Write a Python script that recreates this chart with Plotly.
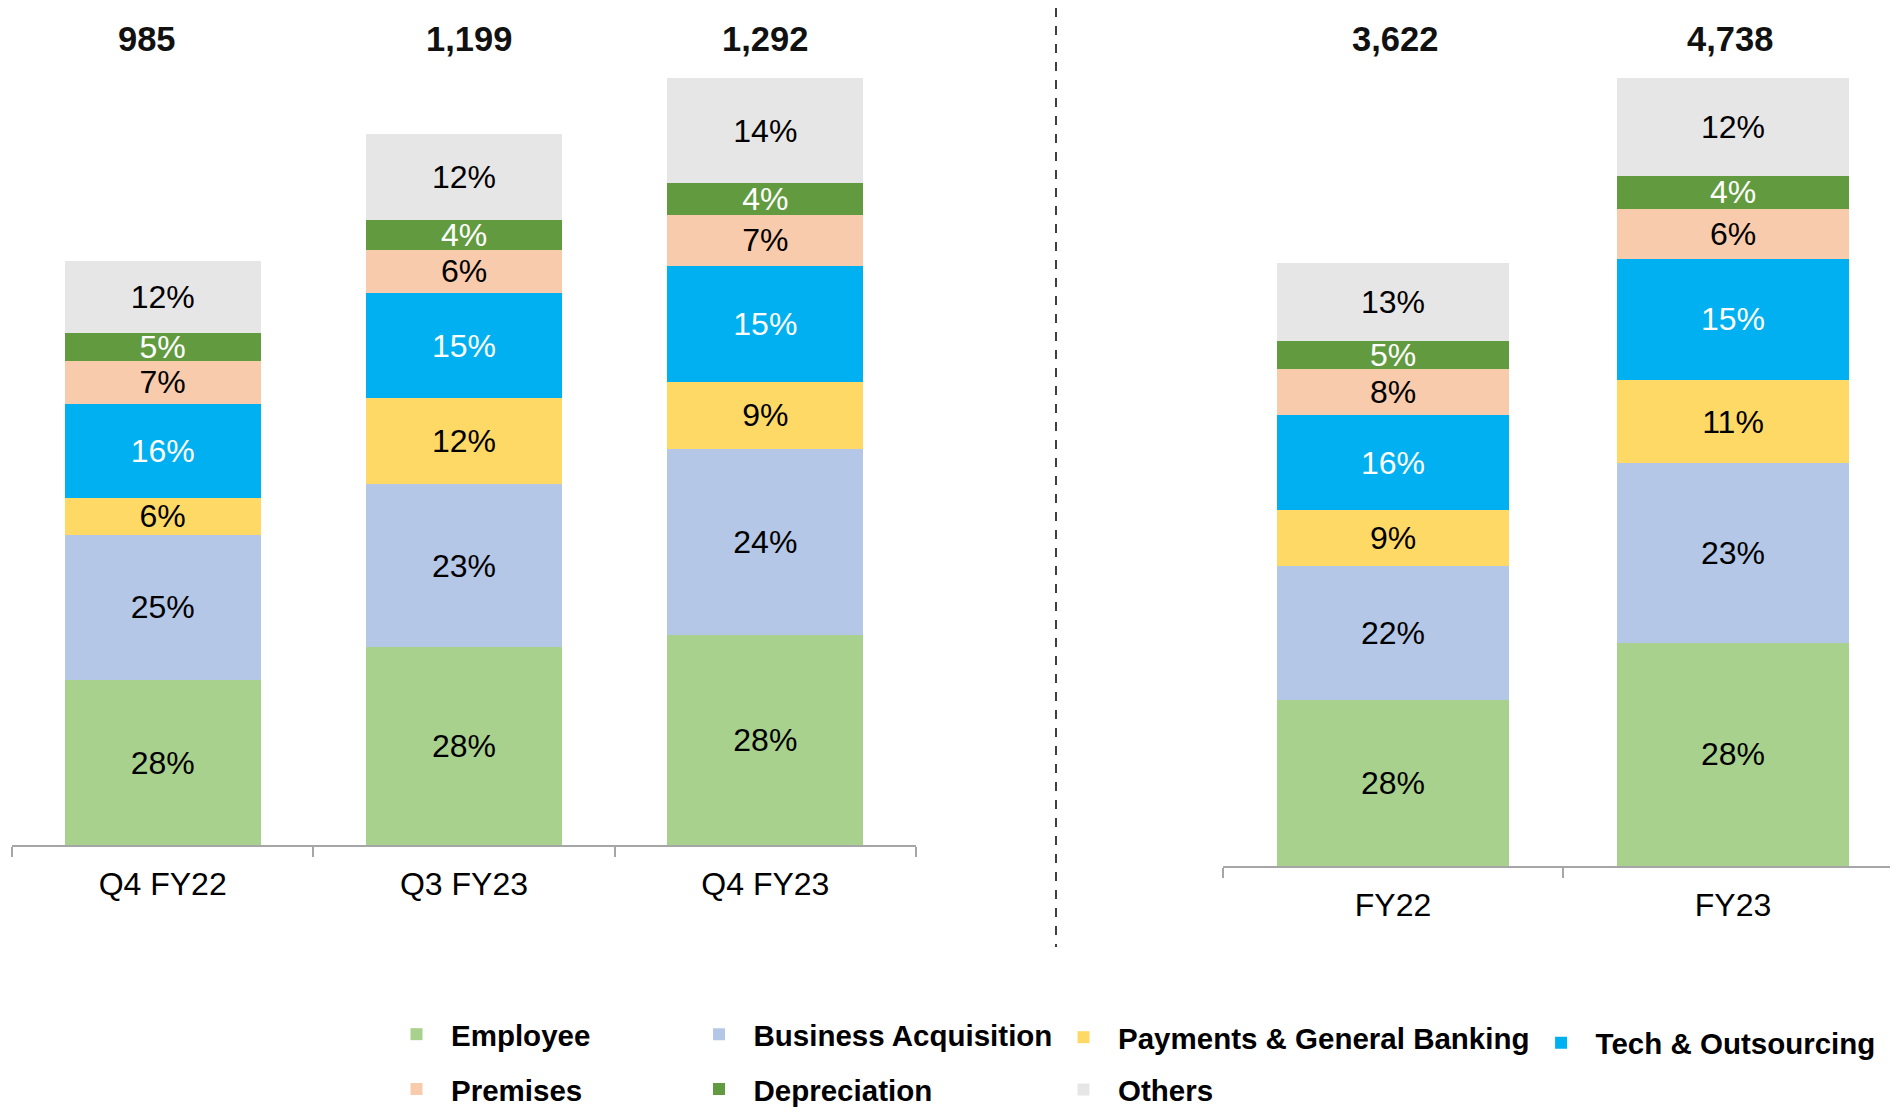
import plotly.graph_objects as go

# The page body has an 8px margin, so the figure is drawn 8px in from the window edge.
OFF = 8
W, H = 1898 - 2 * OFF, 1115 - 2 * OFF

series = ["Employee", "Business Acquisition", "Payments & General Banking",
          "Tech & Outsourcing", "Premises", "Depreciation", "Others"]
colors = ["#A9D18E", "#B4C7E7", "#FFD966", "#00B0F0", "#F8CBAD", "#629B3F", "#E6E6E6"]
label_colors = ["#000000", "#000000", "#000000", "#FFFFFF", "#000000", "#FFFFFF", "#000000"]
legend_ids = ["legend", "legend2", "legend3", "legend4", "legend", "legend2", "legend3"]

q_cats = ["Q4 FY22", "Q3 FY23", "Q4 FY23"]
fy_cats = ["FY22", "FY23"]
q_totals = [985, 1199, 1292]
fy_totals = [3622, 4738]
q_total_labels = ["985", "1,199", "1,292"]
fy_total_labels = ["3,622", "4,738"]

# estimated segment values
q_employee = [278, 333, 354]
q_business = [245, 275, 314]
q_payments = [62, 145, 112]
q_tech = [158, 177, 196]
q_premises = [73, 73, 86]
q_depreciation = [46, 51, 53]
q_others = [123, 145, 177]

fy_employee = [1000, 1343]
fy_business = [802, 1077]
fy_payments = [335, 502]
fy_tech = [575, 728]
fy_premises = [276, 300]
fy_depreciation = [170, 196]
fy_others = [464, 592]

# printed percentage labels
q_employee_pct = ["28%", "28%", "28%"]
q_business_pct = ["25%", "23%", "24%"]
q_payments_pct = ["6%", "12%", "9%"]
q_tech_pct = ["16%", "15%", "15%"]
q_premises_pct = ["7%", "6%", "7%"]
q_depreciation_pct = ["5%", "4%", "4%"]
q_others_pct = ["12%", "12%", "14%"]

fy_employee_pct = ["28%", "28%"]
fy_business_pct = ["22%", "23%"]
fy_payments_pct = ["9%", "11%"]
fy_tech_pct = ["16%", "15%"]
fy_premises_pct = ["8%", "6%"]
fy_depreciation_pct = ["5%", "4%"]
fy_others_pct = ["13%", "12%"]

q_values = [q_employee, q_business, q_payments, q_tech, q_premises, q_depreciation, q_others]
fy_values = [fy_employee, fy_business, fy_payments, fy_tech, fy_premises, fy_depreciation, fy_others]
q_pcts = [q_employee_pct, q_business_pct, q_payments_pct, q_tech_pct, q_premises_pct,
          q_depreciation_pct, q_others_pct]
fy_pcts = [fy_employee_pct, fy_business_pct, fy_payments_pct, fy_tech_pct, fy_premises_pct,
           fy_depreciation_pct, fy_others_pct]

FONT = "Arial, Liberation Sans, sans-serif"


def px_x(p):  # window px -> paper fraction
    return (p - OFF) / W


def px_y(p):
    return 1 - (p - OFF) / H


fig = go.Figure()
for i, name in enumerate(series):
    fig.add_trace(go.Bar(
        x=q_cats, y=q_values[i], name=name, marker=dict(color=colors[i], line=dict(width=0)),
        width=0.65, text=q_pcts[i], textposition="inside", insidetextanchor="middle",
        constraintext="none", textangle=0,
        insidetextfont=dict(family=FONT, size=32, color=label_colors[i]),
        xaxis="x", yaxis="y", legend=legend_ids[i], legendgroup=name, showlegend=True,
        hoverinfo="skip"))
    fig.add_trace(go.Bar(
        x=fy_cats, y=fy_values[i], name=name, marker=dict(color=colors[i], line=dict(width=0)),
        width=0.68, text=fy_pcts[i], textposition="inside", insidetextanchor="middle",
        constraintext="none", textangle=0,
        insidetextfont=dict(family=FONT, size=32, color=label_colors[i]),
        xaxis="x2", yaxis="y2", legend=legend_ids[i], legendgroup=name, showlegend=False,
        hoverinfo="skip"))

q_total_xshift = [-16, 5, 0]
fy_total_xshift = [2, -3]
annotations = []
for c, t, s in zip(q_cats, q_total_labels, q_total_xshift):
    annotations.append(dict(x=c, y=px_y(39), xref="x", yref="paper", text=f"<b>{t}</b>",
                            showarrow=False, xshift=s,
                            font=dict(family=FONT, size=34.5, color="#111111"),
                            yanchor="middle"))
for c, t, s in zip(fy_cats, fy_total_labels, fy_total_xshift):
    annotations.append(dict(x=c, y=px_y(39), xref="x2", yref="paper", text=f"<b>{t}</b>",
                            showarrow=False, xshift=s,
                            font=dict(family=FONT, size=34.5, color="#111111"),
                            yanchor="middle"))

axis_common = dict(showgrid=False, zeroline=False, showline=True, linecolor="#A6A6A6",
                   linewidth=1.5, ticks="outside", tickson="boundaries", ticklen=10,
                   tickcolor="#A6A6A6", tickwidth=1.5,
                   tickfont=dict(family=FONT, size=32, color="#000000"),
                   ticklabelstandoff=10, fixedrange=True)

legend_common = dict(orientation="v",
                     font=dict(family=FONT, size=29.5, color="#000000", weight="bold"),
                     bgcolor="rgba(0,0,0,0)", borderwidth=0, itemwidth=59,
                     xanchor="left", yanchor="top", itemclick=False, itemdoubleclick=False)


def leg(marker_center_x, top_y, gap):
    d = dict(legend_common)
    d.update(x=px_x(marker_center_x - 32), y=px_y(top_y), tracegroupgap=gap)
    return d


# left / right panel geometry in window px
L_X0, L_X1, L_BASE = 12, 916, 845
R_X0, R_BASE, R_CAT = 1223, 866, 340
L_SCALE = 0.5934   # px per unit
R_SCALE = 0.16638

fig.update_layout(
    width=W, height=H, barmode="stack", plot_bgcolor="white", paper_bgcolor="white",
    margin=dict(l=0, r=0, t=0, b=0, autoexpand=False), showlegend=True,
    xaxis=dict(domain=[px_x(L_X0), px_x(L_X1)], range=[-0.5, 2.5], anchor="y", **axis_common),
    yaxis=dict(domain=[px_y(L_BASE), 1], range=[0, (L_BASE - OFF) / L_SCALE],
               visible=False, fixedrange=True),
    xaxis2=dict(domain=[px_x(R_X0), 1], range=[-0.5, -0.5 + (W + OFF - R_X0) / R_CAT],
                anchor="y2", **axis_common),
    yaxis2=dict(domain=[px_y(R_BASE), 1], range=[0, (R_BASE - OFF) / R_SCALE],
                visible=False, fixedrange=True),
    legend=leg(414, 1008.5, 13.5),
    legend2=leg(716.5, 1008.5, 13.5),
    legend3=leg(1081, 1011.5, 11),
    legend4=leg(1558.6, 1017, 18),
    annotations=annotations,
    shapes=[dict(type="line", xref="paper", yref="paper", x0=px_x(1056), x1=px_x(1056),
                 y0=px_y(8), y1=px_y(947), line=dict(color="#000000", width=1.5, dash="dash"))],
)

fig.write_html("out.html")
